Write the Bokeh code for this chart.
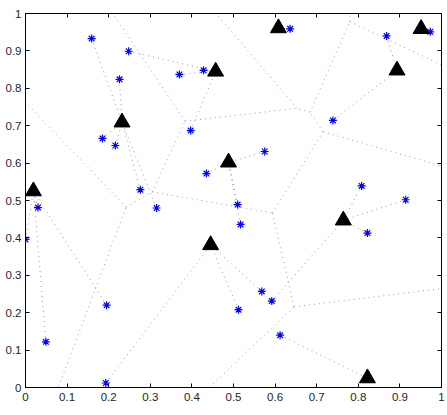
import numpy as np
from bokeh.plotting import figure
from bokeh.models import Range1d, LinearAxis, FixedTicker
from bokeh.embed import file_html
from bokeh.resources import INLINE

# cluster heads (triangles)
head_x = [0.019, 0.232, 0.457, 0.488, 0.445, 0.608, 0.951, 0.893, 0.764, 0.822]
head_y = [0.525, 0.709, 0.845, 0.602, 0.381, 0.961, 0.959, 0.848, 0.447, 0.025]

# sensor nodes (asterisks) and the head each one reports to
node_x = [0.159, 0.248, 0.226, 0.370, 0.428, 0.397, 0.185, 0.216, 0.276, 0.315,
          0.435, 0.575, 0.510, 0.517, 0.636, 0.868, 0.973, 0.739, 0.808, 0.914,
          0.822, 0.568, 0.592, 0.512, 0.612, 0.030, 0.000, 0.049, 0.195, 0.193]
node_y = [0.933, 0.899, 0.824, 0.837, 0.848, 0.687, 0.666, 0.647, 0.529, 0.480,
          0.572, 0.631, 0.489, 0.436, 0.959, 0.940, 0.951, 0.714, 0.539, 0.502,
          0.413, 0.257, 0.231, 0.208, 0.140, 0.481, 0.396, 0.122, 0.220, 0.012]
node_head = [1, 2, 1, 2, 2, 2, 1, 1, 1, 1,
             3, 3, 3, 3, 5, 7, 6, 7, 8, 8,
             8, 4, 8, 4, 9, 0, 0, 0, 0, 4]

ticks = [0.0, 0.1, 0.2, 0.3, 0.4, 0.5, 0.6, 0.7, 0.8, 0.9, 1.0]
tick_labels = ["0", "0.1", "0.2", "0.3", "0.4", "0.5", "0.6", "0.7", "0.8", "0.9", "1"]


def voronoi_edges(xs, ys, reach=10.0):
    """Edges of the Voronoi diagram of the given sites (rays cut at +-reach)."""
    pts = np.column_stack([xs, ys]).astype(float)
    n = len(pts)
    ex, ey = [], []
    for i in range(n):
        for j in range(i + 1, n):
            pi, pj = pts[i], pts[j]
            mid = (pi + pj) / 2.0
            diff = pj - pi
            d = np.array([-diff[1], diff[0]])
            d /= np.linalg.norm(d)
            tmin, tmax = -reach, reach
            ok = True
            for k in range(n):
                if k in (i, j):
                    continue
                pk = pts[k]
                a = 2.0 * np.dot(d, pk - pi)
                b = np.dot(pk, pk) - np.dot(pi, pi) - 2.0 * np.dot(mid, pk - pi)
                if abs(a) < 1e-12:
                    if b < 0:
                        ok = False
                        break
                elif a > 0:
                    tmax = min(tmax, b / a)
                else:
                    tmin = max(tmin, b / a)
            if ok and tmin < tmax:
                p0 = mid + tmin * d
                p1 = mid + tmax * d
                ex.append([p0[0], p1[0]])
                ey.append([p0[1], p1[1]])
    return ex, ey


p = figure(width=447, height=415, x_range=Range1d(0, 1), y_range=Range1d(0, 1),
           output_backend="svg", toolbar_location=None,
           min_border_left=25, min_border_right=6, min_border_top=13, min_border_bottom=28)
p.background_fill_color = "white"
p.border_fill_color = "white"
p.outline_line_color = "#000000"
p.outline_line_width = 1
p.xgrid.visible = False
p.ygrid.visible = False

# Voronoi cells of the heads
vx, vy = voronoi_edges(head_x, head_y)
p.multi_line(vx, vy, line_color="#6a6aff", line_width=1, line_dash="1 4", line_alpha=0.7)

# node -> head links
lx = [[node_x[i], head_x[h]] for i, h in enumerate(node_head)]
ly = [[node_y[i], head_y[h]] for i, h in enumerate(node_head)]
p.multi_line(lx, ly, line_color="#555555", line_width=1, line_dash="1 4", line_alpha=0.6)

p.scatter(node_x, node_y, marker="asterisk", size=8, line_color="#0000ff", line_width=1.2)
p.scatter(head_x, head_y, marker="triangle", size=16, fill_color="black", line_color="black")

ticker = FixedTicker(ticks=ticks)
overrides = {t: s for t, s in zip(ticks, tick_labels)}

for ax in (p.xaxis[0], p.yaxis[0]):
    ax.ticker = ticker
    ax.major_label_overrides = overrides
    ax.major_tick_in = 4
    ax.major_tick_out = 0
    ax.minor_tick_line_color = None
    ax.axis_line_color = "#000000"
    ax.major_tick_line_color = "#000000"
    ax.major_label_text_font = "Liberation Sans"
    ax.major_label_text_font_size = "11.5px"
    ax.major_label_text_color = "#262626"
p.xaxis[0].major_label_standoff = 5
p.yaxis[0].major_label_standoff = 4

for side in ("above", "right"):
    ax = LinearAxis(ticker=ticker, major_tick_in=4, major_tick_out=0,
                    minor_tick_line_color=None, major_label_text_font_size="0px",
                    major_label_standoff=0, axis_line_color="#000000",
                    major_tick_line_color="#000000")
    ax.major_label_overrides = {t: "" for t in ticks}
    p.add_layout(ax, side)

open("out.html", "w").write(file_html(p, INLINE))
